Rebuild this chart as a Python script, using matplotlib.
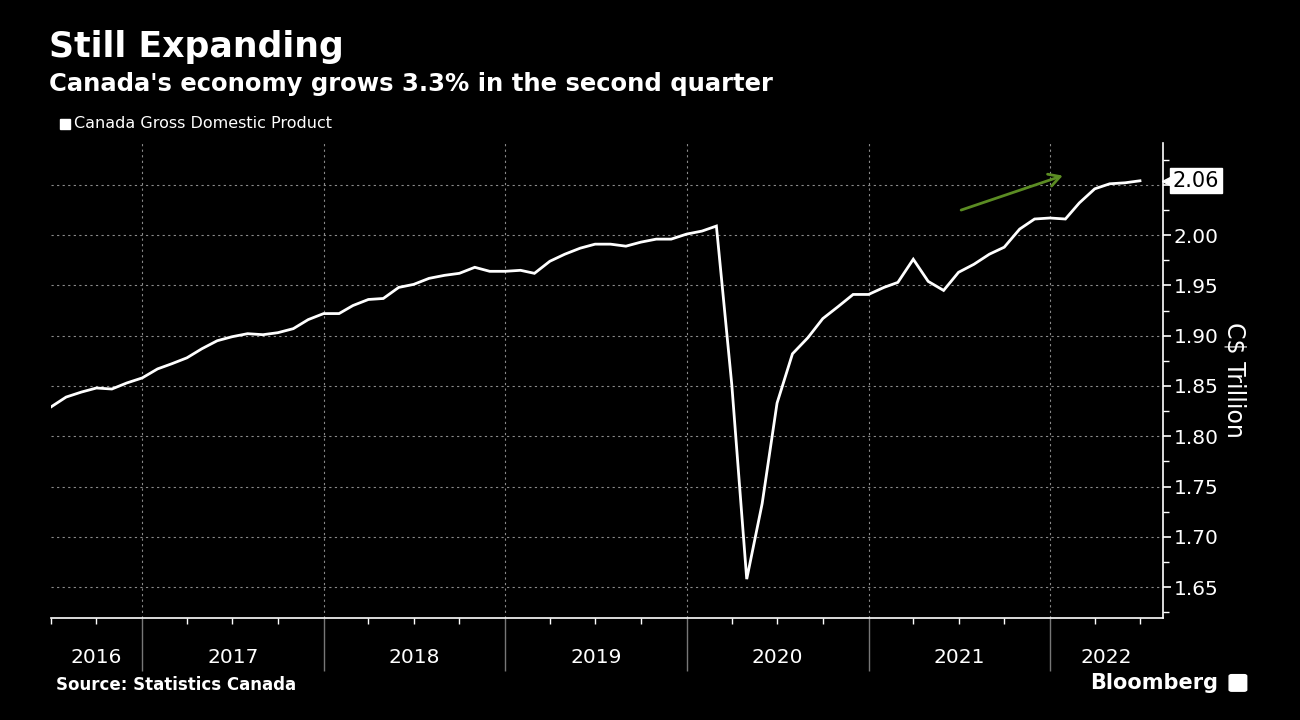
import numpy as np
import pandas as pd
import matplotlib
matplotlib.use("Agg")
import matplotlib.pyplot as plt
import matplotlib.dates as mdates
import matplotlib.transforms as mtransforms
from matplotlib.patches import Rectangle, FancyBboxPatch

months = pd.period_range("2016-06", "2022-06", freq="M")
gdp = [
    1.829, 1.839, 1.844, 1.848, 1.847, 1.853, 1.858, 1.867, 1.872, 1.878,
    1.887, 1.895, 1.899, 1.902, 1.901, 1.903, 1.907, 1.916, 1.922, 1.922,
    1.930, 1.936, 1.937, 1.948, 1.951, 1.957, 1.960, 1.962, 1.968, 1.964,
    1.964, 1.965, 1.962, 1.974, 1.981, 1.987, 1.991, 1.991, 1.989, 1.993,
    1.996, 1.996, 2.001, 2.004, 2.009, 1.851, 1.658, 1.733, 1.833, 1.882,
    1.898, 1.917, 1.929, 1.941, 1.941, 1.948, 1.953, 1.976, 1.954, 1.945,
    1.963, 1.971, 1.981, 1.988, 2.006, 2.016, 2.017, 2.016, 2.032, 2.046,
    2.051, 2.052, 2.054,
]
last_label = "2.06"
years = [2016, 2017, 2018, 2019, 2020, 2021, 2022]
yticks = [1.65, 1.70, 1.75, 1.80, 1.85, 1.90, 1.95, 2.00, 2.05]

# trend arrow (data coords)
arrow_from = ("2021-07-01", 2.024)
arrow_to = ("2022-02-01", 2.060)

title = "Still Expanding"
subtitle = "Canada's economy grows 3.3% in the second quarter"
legend_label = "Canada Gross Domestic Product"
source = "Source: Statistics Canada"

# month values are plotted at the end of each month
x = (months + 1).to_timestamp()

fig = plt.figure(figsize=(13, 7.2), dpi=100, facecolor="black")
ax = fig.add_axes([0.039, 0.142, 0.8555, 0.66])
ax.set_facecolor("black")

ax.plot(x, gdp, color="white", lw=2, solid_joinstyle="miter", zorder=3)

x_left = pd.Timestamp("2016-07-01")
x_right = pd.Timestamp("2022-08-16")
ax.set_xlim(x_left, x_right)
ax.set_ylim(1.6196, 2.092)

# spines
for s in ["left", "top"]:
    ax.spines[s].set_visible(False)
ax.spines["right"].set_color("white")
ax.spines["bottom"].set_color("white")
ax.spines["right"].set_linewidth(1.2)
ax.spines["bottom"].set_linewidth(1.2)

# y axis on the right; the 2.05 label is replaced by the last-value tag
ax.yaxis.tick_right()
ax.yaxis.set_label_position("right")
ax.set_yticks(yticks)
ax.set_yticklabels([f"{v:.2f}" if v < 2.04 else "" for v in yticks])
ax.set_yticks(np.arange(1.625, 2.1, 0.05), minor=True)
ax.tick_params(axis="y", which="major", colors="white", labelsize=14.5,
               length=6, width=1.2, pad=2)
ax.tick_params(axis="y", which="minor", colors="white", length=4, width=1)
ax.set_ylabel("C$ Trillion", color="white", fontsize=17, rotation=270,
              labelpad=20)

# x axis: year separators as long grey ticks, quarters as minor ticks
year_starts = [pd.Timestamp(f"{y}-01-01") for y in years[1:]]
ax.set_xticks(year_starts)
ax.set_xticklabels([])
ax.xaxis.set_minor_locator(mdates.MonthLocator(bymonth=[1, 4, 7, 10]))
ax.tick_params(axis="x", which="major", colors="#777777", length=38,
               width=1, direction="out")
ax.tick_params(axis="x", which="minor", colors="white", length=4,
               width=1, direction="out")

# year labels centred in each visible year span
for y in years:
    a = max(pd.Timestamp(f"{y}-01-01"), x_left)
    b = min(pd.Timestamp(f"{y + 1}-01-01"), x_right)
    mid = a + (b - a) / 2
    ax.text(mid, -0.083, str(y), transform=ax.get_xaxis_transform(),
            ha="center", va="center", color="white", fontsize=14.5)

# grid
ax.grid(True, which="major", axis="both", color="#8a8a8a", lw=0.8,
        linestyle=(0, (2, 3)))
ax.set_axisbelow(True)

# trend arrow
ax.annotate("", xy=(pd.Timestamp(arrow_to[0]), arrow_to[1]),
            xytext=(pd.Timestamp(arrow_from[0]), arrow_from[1]),
            arrowprops=dict(arrowstyle="->,head_length=0.8,head_width=0.45",
                            color="#5b8c23", lw=2), zorder=4)

# last value tag
blend = mtransforms.blended_transform_factory(ax.transAxes, ax.transData)
ax.plot([1.005], [gdp[-1]], marker="<", color="white", markersize=8,
        transform=blend, clip_on=False, zorder=5)
ax.text(1.009, gdp[-1], last_label, transform=blend, ha="left", va="center",
        color="black", fontsize=15, zorder=6,
        bbox=dict(boxstyle="square,pad=0.12", fc="white", ec="white"))

# header
fig.text(0.038, 0.935, title, color="white", fontsize=25, fontweight="bold",
         ha="left", va="center")
fig.text(0.038, 0.884, subtitle, color="white", fontsize=17.5,
         fontweight="bold", ha="left", va="center")
fig.patches.append(Rectangle((0.0462, 0.8215), 0.0077, 0.0139,
                             transform=fig.transFigure, color="white"))
fig.text(0.057, 0.828, legend_label, color="white", fontsize=11.5,
         ha="left", va="center")

# footer
fig.text(0.043, 0.049, source, color="white", fontsize=12,
         fontweight="bold", ha="left", va="center")
fig.text(0.937, 0.051, "Bloomberg", color="white", fontsize=15,
         fontweight="bold", ha="right", va="center")
fig.patches.append(FancyBboxPatch((0.9475, 0.042), 0.0095, 0.019,
                                  boxstyle="round,pad=0.002",
                                  transform=fig.transFigure, color="white"))

fig.savefig("out.png", dpi=100, facecolor="black")
